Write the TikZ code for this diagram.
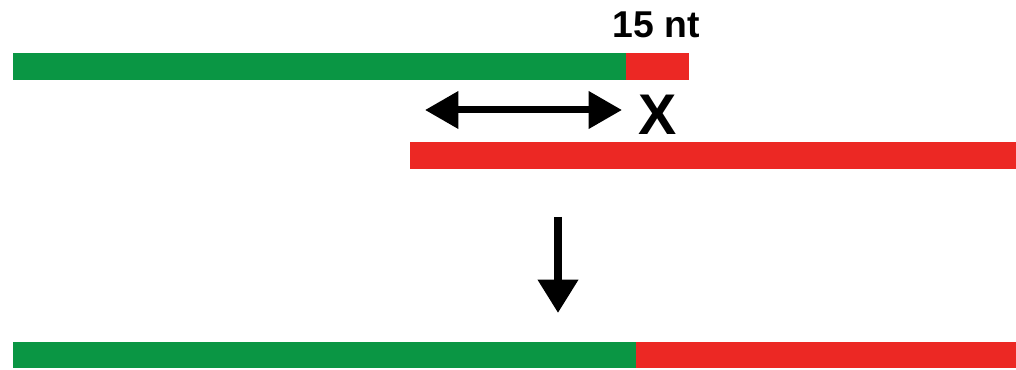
\documentclass[tikz,border=0pt]{standalone}
\usepackage{fontspec}
\setmainfont{Liberation Sans}
\usetikzlibrary{arrows.meta}
\definecolor{bargreen}{RGB}{10,150,68}
\definecolor{barred}{RGB}{236,40,36}
\begin{document}
\begin{tikzpicture}[x=0.75pt,y=-0.75pt,
  greenbar/.style={fill=bargreen,draw=none},
  redbar/.style={fill=barred,draw=none},
  lbl/.style={font=\bfseries,text=black,inner sep=0pt},
  dblarrow/.style={line width=5.25pt,{Triangle[length=25pt,width=27pt]}-{Triangle[length=25pt,width=27pt]}},
  downarrow/.style={line width=6pt,-{Triangle[length=25pt,width=29pt]}}]
\useasboundingbox (0,0) rectangle (1016,370);
% top strand
\path[greenbar] (13,53) rectangle (626,80);
\path[redbar] (626,53) rectangle (689,80);
\node[lbl,font=\fontsize{28}{30}\selectfont\bfseries,anchor=base] (nt) at (656,38) {15 nt};
% double arrow
\coordinate (al) at (425,110);
\coordinate (ar) at (622,110);
\draw[dblarrow] (al) -- (ar);
\node[lbl,font=\fontsize{43}{45}\selectfont\bfseries,anchor=base] (x) at (657.5,135) {X};
% second strand
\path[redbar] (410,142) rectangle (1016,169);
% down arrow
\coordinate (dt) at (558,217);
\coordinate (db) at (558,313);
\draw[downarrow] (dt) -- (db);
% product
\path[greenbar] (13,342) rectangle (636,368);
\path[redbar] (636,342) rectangle (1016,368);
\end{tikzpicture}
\end{document}
